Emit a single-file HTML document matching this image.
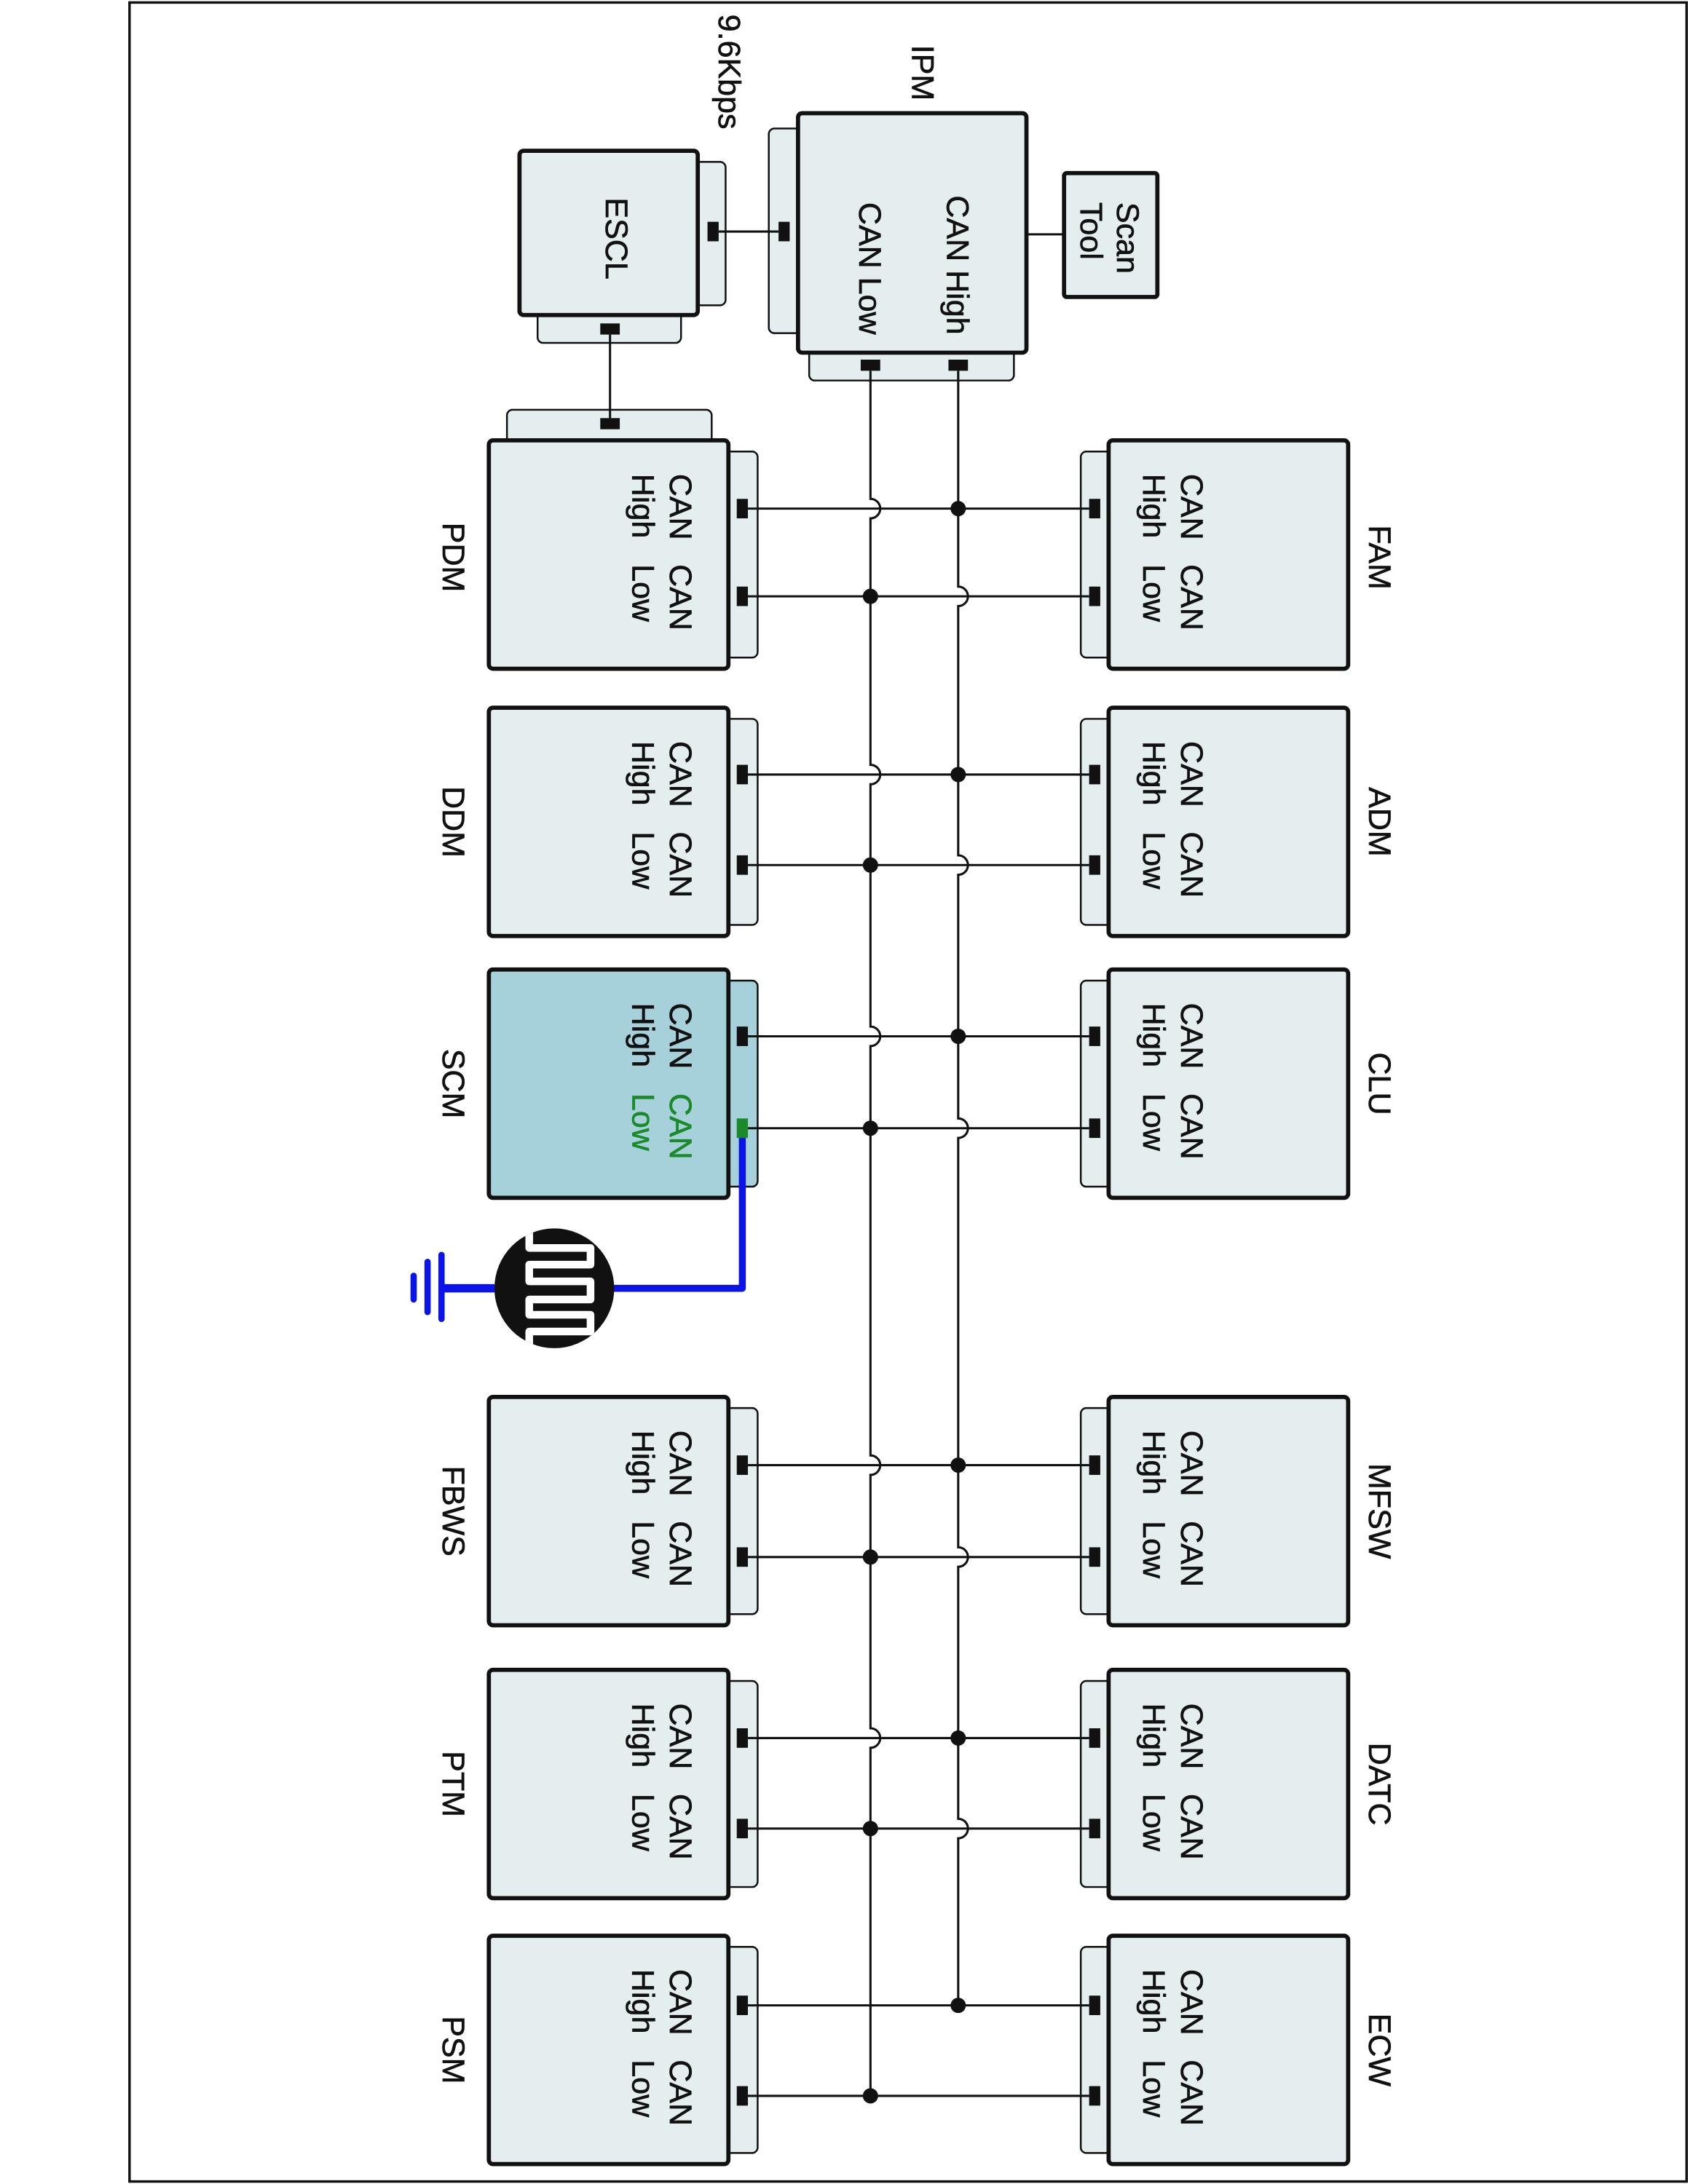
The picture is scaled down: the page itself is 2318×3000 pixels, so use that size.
<!DOCTYPE html>
<html><head><meta charset="utf-8"><style>
html,body{margin:0;padding:0;background:#fff;}
svg{display:block;}
text{font-family:"Liberation Sans",Arial,sans-serif;font-size:22.5px;fill:#111;stroke:#111;stroke-width:0.35;}
.box{fill:#e4eeef;stroke:#111;stroke-width:3;}
.tab{fill:#e4eeef;stroke:#111;stroke-width:1.3;}
.w{stroke:#111;stroke-width:1.6;fill:none;}
</style></head><body>
<svg width="2318" height="3000" viewBox="0 0 1212 1568" xmlns="http://www.w3.org/2000/svg">
<rect x="93" y="1.5" width="1118" height="1565" fill="none" stroke="#111" stroke-width="1.8"/>

<!-- ESCL -->
<rect class="tab" x="497" y="116" width="24" height="103" rx="4"/>
<rect class="tab" x="386" y="222" width="103" height="24" rx="4"/>
<rect class="box" x="373" y="108" width="128" height="118" rx="3"/>
<text transform="translate(435,171) rotate(90)" text-anchor="middle">ESCL</text>
<rect x="431" y="232" width="14" height="8" fill="#111"/>
<rect x="508" y="159" width="8" height="14" fill="#111"/>

<!-- IPM -->
<rect class="tab" x="552" y="92" width="25" height="147" rx="4"/>
<rect class="tab" x="581" y="248" width="147" height="25" rx="4"/>
<rect class="box" x="573" y="81" width="164" height="172" rx="3"/>
<rect x="559" y="159" width="8" height="14" fill="#111"/>
<line class="w" x1="516" y1="166" x2="559" y2="166"/>
<text transform="translate(680,240) rotate(90)" text-anchor="end">CAN High</text>
<text transform="translate(617,240) rotate(90)" text-anchor="end">CAN Low</text>
<text transform="translate(655,52) rotate(90)" text-anchor="middle">IPM</text>
<text transform="translate(516,10) rotate(90)">9.6Kbps</text>
<rect x="618" y="258" width="14" height="8" fill="#111"/>
<rect x="681" y="258" width="14" height="8" fill="#111"/>

<!-- Scan Tool -->
<line class="w" x1="737" y1="168" x2="764" y2="168"/>
<rect class="box" x="764" y="124" width="67" height="89" rx="2"/>
<text transform="translate(802,145) rotate(90)">Scan</text>
<text transform="translate(776,145) rotate(90)">Tool</text>

<!-- PDM top tab and ESCL link -->
<rect class="tab" x="364" y="294" width="147" height="26" rx="4"/>
<line class="w" x1="438" y1="240" x2="438" y2="300"/>
<rect x="431" y="300" width="14" height="8" fill="#111"/>

<!-- Left modules -->
<g>
<rect class="tab" x="519" y="324" width="25" height="148" rx="4"/>
<rect class="box" x="351" y="316" width="172" height="164" rx="3"/>
<text transform="translate(481,340) rotate(90)">CAN</text><text transform="translate(454,340) rotate(90)">High</text>
<text transform="translate(481,405) rotate(90)">CAN</text><text transform="translate(454,405) rotate(90)">Low</text>
<text transform="translate(318,400) rotate(90)" text-anchor="middle">PDM</text>
</g>
<g>
<rect class="tab" x="519" y="516" width="25" height="148" rx="4"/>
<rect class="box" x="351" y="508" width="172" height="164" rx="3"/>
<text transform="translate(481,532) rotate(90)">CAN</text><text transform="translate(454,532) rotate(90)">High</text>
<text transform="translate(481,597) rotate(90)">CAN</text><text transform="translate(454,597) rotate(90)">Low</text>
<text transform="translate(318,590) rotate(90)" text-anchor="middle">DDM</text>
</g>
<g>
<rect x="519" y="704" width="25" height="148" rx="4" fill="#a6d1db" stroke="#111" stroke-width="1.3"/>
<rect x="351" y="696" width="172" height="164" rx="3" fill="#a6d1db" stroke="#111" stroke-width="3"/>
<text transform="translate(481,720) rotate(90)">CAN</text><text transform="translate(454,720) rotate(90)">High</text>
<text transform="translate(481,785) rotate(90)" style="fill:#1a8a2a;stroke:#1a8a2a">CAN</text><text transform="translate(454,785) rotate(90)" style="fill:#1a8a2a;stroke:#1a8a2a">Low</text>
<text transform="translate(318,778) rotate(90)" text-anchor="middle">SCM</text>
</g>
<g>
<rect class="tab" x="519" y="1011" width="25" height="148" rx="4"/>
<rect class="box" x="351" y="1003" width="172" height="164" rx="3"/>
<text transform="translate(481,1027) rotate(90)">CAN</text><text transform="translate(454,1027) rotate(90)">High</text>
<text transform="translate(481,1092) rotate(90)">CAN</text><text transform="translate(454,1092) rotate(90)">Low</text>
<text transform="translate(318,1085) rotate(90)" text-anchor="middle">FBWS</text>
</g>
<g>
<rect class="tab" x="519" y="1207" width="25" height="148" rx="4"/>
<rect class="box" x="351" y="1199" width="172" height="164" rx="3"/>
<text transform="translate(481,1223) rotate(90)">CAN</text><text transform="translate(454,1223) rotate(90)">High</text>
<text transform="translate(481,1288) rotate(90)">CAN</text><text transform="translate(454,1288) rotate(90)">Low</text>
<text transform="translate(318,1281) rotate(90)" text-anchor="middle">PTM</text>
</g>
<g>
<rect class="tab" x="519" y="1398" width="25" height="148" rx="4"/>
<rect class="box" x="351" y="1390" width="172" height="164" rx="3"/>
<text transform="translate(481,1414) rotate(90)">CAN</text><text transform="translate(454,1414) rotate(90)">High</text>
<text transform="translate(481,1479) rotate(90)">CAN</text><text transform="translate(454,1479) rotate(90)">Low</text>
<text transform="translate(318,1472) rotate(90)" text-anchor="middle">PSM</text>
</g>

<!-- Right modules -->
<g>
<rect class="tab" x="776" y="324" width="25" height="148" rx="4"/>
<rect class="box" x="796" y="316" width="172" height="164" rx="3"/>
<text transform="translate(848,340) rotate(90)">CAN</text><text transform="translate(821,340) rotate(90)">High</text>
<text transform="translate(848,405) rotate(90)">CAN</text><text transform="translate(821,405) rotate(90)">Low</text>
<text transform="translate(983,400) rotate(90)" text-anchor="middle">FAM</text>
</g>
<g>
<rect class="tab" x="776" y="516" width="25" height="148" rx="4"/>
<rect class="box" x="796" y="508" width="172" height="164" rx="3"/>
<text transform="translate(848,532) rotate(90)">CAN</text><text transform="translate(821,532) rotate(90)">High</text>
<text transform="translate(848,597) rotate(90)">CAN</text><text transform="translate(821,597) rotate(90)">Low</text>
<text transform="translate(983,590) rotate(90)" text-anchor="middle">ADM</text>
</g>
<g>
<rect class="tab" x="776" y="704" width="25" height="148" rx="4"/>
<rect class="box" x="796" y="696" width="172" height="164" rx="3"/>
<text transform="translate(848,720) rotate(90)">CAN</text><text transform="translate(821,720) rotate(90)">High</text>
<text transform="translate(848,785) rotate(90)">CAN</text><text transform="translate(821,785) rotate(90)">Low</text>
<text transform="translate(983,778) rotate(90)" text-anchor="middle">CLU</text>
</g>
<g>
<rect class="tab" x="776" y="1011" width="25" height="148" rx="4"/>
<rect class="box" x="796" y="1003" width="172" height="164" rx="3"/>
<text transform="translate(848,1027) rotate(90)">CAN</text><text transform="translate(821,1027) rotate(90)">High</text>
<text transform="translate(848,1092) rotate(90)">CAN</text><text transform="translate(821,1092) rotate(90)">Low</text>
<text transform="translate(983,1085) rotate(90)" text-anchor="middle">MFSW</text>
</g>
<g>
<rect class="tab" x="776" y="1207" width="25" height="148" rx="4"/>
<rect class="box" x="796" y="1199" width="172" height="164" rx="3"/>
<text transform="translate(848,1223) rotate(90)">CAN</text><text transform="translate(821,1223) rotate(90)">High</text>
<text transform="translate(848,1288) rotate(90)">CAN</text><text transform="translate(821,1288) rotate(90)">Low</text>
<text transform="translate(983,1281) rotate(90)" text-anchor="middle">DATC</text>
</g>
<g>
<rect class="tab" x="776" y="1398" width="25" height="148" rx="4"/>
<rect class="box" x="796" y="1390" width="172" height="164" rx="3"/>
<text transform="translate(848,1414) rotate(90)">CAN</text><text transform="translate(821,1414) rotate(90)">High</text>
<text transform="translate(848,1479) rotate(90)">CAN</text><text transform="translate(821,1479) rotate(90)">Low</text>
<text transform="translate(983,1472) rotate(90)" text-anchor="middle">ECW</text>
</g>

<!-- bus verticals -->
<path class="w" d="M625,266 V358 A7,7 0 0 1 625,372 V549 A7,7 0 0 1 625,563 V737 A7,7 0 0 1 625,751 V1045 A7,7 0 0 1 625,1059 V1241 A7,7 0 0 1 625,1255 V1505"/>
<path class="w" d="M688,266 V421 A7,7 0 0 1 688,435 V614 A7,7 0 0 1 688,628 V803 A7,7 0 0 1 688,817 V1111 A7,7 0 0 1 688,1125 V1306 A7,7 0 0 1 688,1320 V1440"/>

<!-- horizontal wires -->
<g class="w">
<line x1="537" y1="365" x2="782" y2="365"/><line x1="537" y1="428" x2="782" y2="428"/>
<line x1="537" y1="556" x2="782" y2="556"/><line x1="537" y1="621" x2="782" y2="621"/>
<line x1="537" y1="744" x2="782" y2="744"/><line x1="537" y1="810" x2="782" y2="810"/>
<line x1="537" y1="1052" x2="782" y2="1052"/><line x1="537" y1="1118" x2="782" y2="1118"/>
<line x1="537" y1="1248" x2="782" y2="1248"/><line x1="537" y1="1313" x2="782" y2="1313"/>
<line x1="537" y1="1440" x2="782" y2="1440"/><line x1="537" y1="1505" x2="782" y2="1505"/>
</g>

<!-- dots -->
<g fill="#111">
<circle cx="625" cy="428" r="5.5"/><circle cx="625" cy="621" r="5.5"/><circle cx="625" cy="810" r="5.5"/>
<circle cx="625" cy="1118" r="5.5"/><circle cx="625" cy="1313" r="5.5"/><circle cx="625" cy="1505" r="5.5"/>
<circle cx="688" cy="365" r="5.5"/><circle cx="688" cy="556" r="5.5"/><circle cx="688" cy="744" r="5.5"/>
<circle cx="688" cy="1052" r="5.5"/><circle cx="688" cy="1248" r="5.5"/><circle cx="688" cy="1440" r="5.5"/>
</g>

<!-- connectors -->
<g fill="#111">
<rect x="529" y="358" width="8" height="14"/><rect x="529" y="421" width="8" height="14"/>
<rect x="529" y="549" width="8" height="14"/><rect x="529" y="614" width="8" height="14"/>
<rect x="529" y="737" width="8" height="14"/>
<rect x="529" y="1045" width="8" height="14"/><rect x="529" y="1111" width="8" height="14"/>
<rect x="529" y="1241" width="8" height="14"/><rect x="529" y="1306" width="8" height="14"/>
<rect x="529" y="1433" width="8" height="14"/><rect x="529" y="1498" width="8" height="14"/>
<rect x="782" y="358" width="8" height="14"/><rect x="782" y="421" width="8" height="14"/>
<rect x="782" y="549" width="8" height="14"/><rect x="782" y="614" width="8" height="14"/>
<rect x="782" y="737" width="8" height="14"/><rect x="782" y="803" width="8" height="14"/>
<rect x="782" y="1045" width="8" height="14"/><rect x="782" y="1111" width="8" height="14"/>
<rect x="782" y="1241" width="8" height="14"/><rect x="782" y="1306" width="8" height="14"/>
<rect x="782" y="1433" width="8" height="14"/><rect x="782" y="1498" width="8" height="14"/>
</g>

<!-- SCM low ground wire -->
<polyline points="533,814 533,925 355,925" fill="none" stroke="#0a14e6" stroke-width="5" stroke-linejoin="round"/>
<line x1="355" y1="925" x2="317" y2="925" stroke="#0a14e6" stroke-width="6"/>
<line x1="317" y1="901" x2="317" y2="947" stroke="#0a14e6" stroke-width="4.5" stroke-linecap="round"/>
<line x1="307" y1="906" x2="307" y2="942" stroke="#0a14e6" stroke-width="4.5" stroke-linecap="round"/>
<line x1="297" y1="916" x2="297" y2="933" stroke="#0a14e6" stroke-width="4.5" stroke-linecap="round"/>
<rect x="529" y="803" width="8" height="14" fill="#1a8a2a"/>

<!-- sensor symbol -->
<defs><clipPath id="cc"><circle cx="398" cy="925" r="43"/></clipPath></defs>
<circle cx="398" cy="925" r="43" fill="#111"/>
<g clip-path="url(#cc)">
<path d="M380,880 V896 H424 V908 H380 V920 H424 V933 H380 V944 H424 V956 H380 V972" fill="none" stroke="#fff" stroke-width="5.5" stroke-linejoin="round"/>
</g>
</svg>
</body></html>
